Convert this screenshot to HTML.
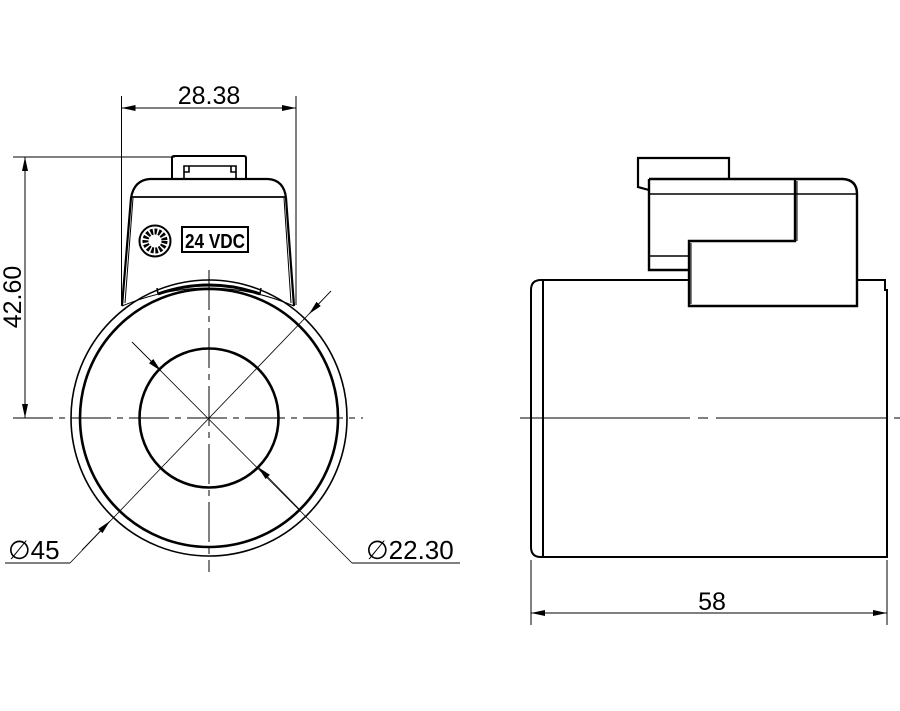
<!DOCTYPE html>
<html><head><meta charset="utf-8"><style>
html,body{margin:0;padding:0;background:#fff;}
svg{display:block;}
text{font-family:"Liberation Sans",sans-serif;fill:#000;}
</style></head><body>
<svg width="900" height="711" viewBox="0 0 900 711" xmlns="http://www.w3.org/2000/svg">
<defs>
<marker id="a" viewBox="0 0 14 6" refX="14" refY="3" markerWidth="14" markerHeight="6" orient="auto" markerUnits="userSpaceOnUse"><path d="M0,0 L14,3 L0,6 Z" fill="#000"/></marker>
</defs>
<g fill="none" stroke="#000">
<line x1="121.5" y1="96" x2="121.5" y2="305" stroke-width="1"/>
<line x1="296" y1="96" x2="296" y2="305" stroke-width="1"/>
<line x1="150" y1="108" x2="121.5" y2="108" marker-end="url(#a)" stroke-width="1"/>
<line x1="150" y1="108" x2="296" y2="108" marker-end="url(#a)" stroke-width="1"/>
<line x1="13" y1="157" x2="175" y2="157" stroke-width="1"/>
<line x1="25" y1="300" x2="25" y2="157" marker-end="url(#a)" stroke-width="1"/>
<line x1="25" y1="300" x2="25" y2="418" marker-end="url(#a)" stroke-width="1"/>
<line x1="13" y1="418" x2="363" y2="418" stroke-width="1" stroke-dasharray="40,6,6,6"/>
<line x1="209" y1="270" x2="209" y2="572" stroke-width="1" stroke-dasharray="40,6,6,6"/>
<circle cx="209" cy="418" r="138" stroke-width="1.6"/>
<circle cx="209" cy="418" r="129" stroke-width="2.6"/>
<circle cx="209" cy="418" r="69.5" stroke-width="2.6"/>
<path d="M122,306 L131,198 Q134,180 150,179 L268,179 Q284,180 286,198 L294,306" stroke-width="2.2"/>
<path d="M125,303 L133,198 M291,303 L284,198" stroke-width="1"/>
<line x1="131" y1="197" x2="286" y2="197" stroke-width="1.8"/>
<path d="M172,179 L172,158 Q172,156 174,156 L244,156 Q246,156 246,158 L246,179" stroke-width="2"/>
<path d="M184,179 L184,166 L236,166 L236,179 M184,172 L189,172 L189,166 M236,172 L231,172 L231,166" stroke-width="1.6"/>
<path d="M122,306 Q209,270 294,306" stroke-width="1"/>
<path d="M158,294 Q209,276 260,294" stroke-width="3"/>
<path d="M158,294 L157,288 M260,294 L261,288" stroke-width="1.5"/>
<circle cx="155" cy="241" r="15.5" stroke-width="2"/>
<circle cx="155" cy="241" r="9.5" stroke-width="6" stroke-dasharray="2.5,1.5"/>
<rect x="182" y="227" width="66" height="25" stroke-width="2"/>
<line x1="70" y1="563" x2="5" y2="563" stroke-width="1"/>
<line x1="70" y1="563" x2="331" y2="291" stroke-width="0.8"/>
<line x1="82" y1="550" x2="110" y2="521" marker-end="url(#a)" stroke-width="0.8"/>
<line x1="331" y1="291" x2="309" y2="314" marker-end="url(#a)" stroke-width="0.8"/>
<line x1="352" y1="563" x2="460" y2="563" stroke-width="1"/>
<line x1="352" y1="563" x2="132" y2="342" stroke-width="0.8"/>
<line x1="132" y1="342" x2="161" y2="371" marker-end="url(#a)" stroke-width="0.8"/>
<line x1="300" y1="510" x2="258" y2="467" marker-end="url(#a)" stroke-width="0.8"/>
<path d="M543,557 L543,280 M541,280 L689,280 M857,280 L885,280 L885,290 L887,290 L887,557 L541,557 Q531,557 531,547 L531,290 Q531,280 541,280" stroke-width="2"/>
<line x1="520" y1="418" x2="900" y2="418" stroke-width="1" stroke-dasharray="170,8,10,8"/>
<path d="M649,190 L638,187 L638,158 L729,158 L729,179" stroke-width="2.2"/>
<path d="M649,179 L843,179 Q857,180 857,194 L857,306 L689,306 L689,241 L795,241 L795,179 M649,179 L649,270 L689,270" stroke-width="2.4"/>
<line x1="649" y1="194" x2="857" y2="194" stroke-width="1.6"/>
<line x1="649" y1="256" x2="689" y2="256" stroke-width="1.6"/>
<line x1="691" y1="243" x2="691" y2="304" stroke-width="1"/>
<line x1="797" y1="181" x2="797" y2="241" stroke-width="1"/>
<line x1="531" y1="560" x2="531" y2="625" stroke-width="1"/>
<line x1="887" y1="560" x2="887" y2="625" stroke-width="1"/>
<line x1="700" y1="613" x2="531" y2="613" marker-end="url(#a)" stroke-width="1"/>
<line x1="700" y1="613" x2="887" y2="613" marker-end="url(#a)" stroke-width="1"/>
</g>
<text x="209" y="104" font-size="25" text-anchor="middle">28.38</text>
<text transform="translate(21,297) rotate(-90)" font-size="25" text-anchor="middle" x="0" y="0">42.60</text>
<text x="185" y="248" font-size="20" font-weight="bold" textLength="60" lengthAdjust="spacingAndGlyphs">24 VDC</text>
<text x="8" y="559" font-size="26">∅45</text>
<text x="366" y="559" font-size="26">∅22.30</text>
<text x="712" y="610" font-size="25" text-anchor="middle">58</text>
</svg>
</body></html>
